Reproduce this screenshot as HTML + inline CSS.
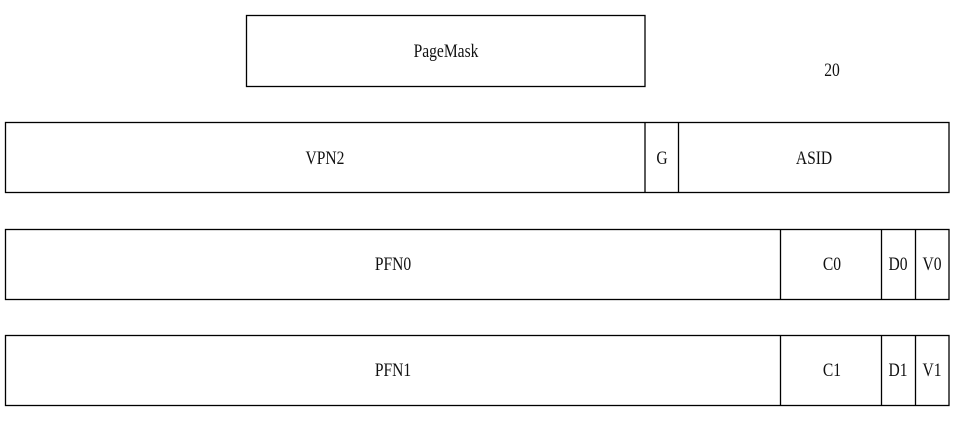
<!DOCTYPE html>
<html><head><meta charset="utf-8"><style>
body{margin:0;background:#fff;width:957px;height:423px;overflow:hidden}
svg text{font-family:"Liberation Serif",serif;font-size:19px;fill:#111}
</style></head><body>
<svg width="957" height="423" xmlns="http://www.w3.org/2000/svg">
<g fill="none" stroke="#000" stroke-width="1.3">
<rect x="246.5" y="15.5" width="398.5" height="71"/>
<rect x="5.5" y="122.5" width="943.5" height="70"/>
<line x1="645" y1="122" x2="645" y2="193"/><line x1="678.5" y1="122" x2="678.5" y2="193"/>
<rect x="5.5" y="229.5" width="943.5" height="70"/>
<line x1="780.5" y1="229" x2="780.5" y2="300"/><line x1="881.5" y1="229" x2="881.5" y2="300"/><line x1="915.5" y1="229" x2="915.5" y2="300"/>
<rect x="5.5" y="335.5" width="943.5" height="70"/>
<line x1="780.5" y1="335" x2="780.5" y2="406"/><line x1="881.5" y1="335" x2="881.5" y2="406"/><line x1="915.5" y1="335" x2="915.5" y2="406"/>
</g>
<g text-anchor="middle">
<text x="446" y="57" transform="translate(446,0) scale(0.82,1) translate(-446,0)">PageMask</text>
<text x="832" y="76" transform="translate(832,0) scale(0.82,1) translate(-832,0)">20</text>
<text x="325" y="164" transform="translate(325,0) scale(0.82,1) translate(-325,0)">VPN2</text>
<text x="662" y="164" transform="translate(662,0) scale(0.82,1) translate(-662,0)">G</text>
<text x="814" y="164" transform="translate(814,0) scale(0.82,1) translate(-814,0)">ASID</text>
<text x="393" y="270" transform="translate(393,0) scale(0.82,1) translate(-393,0)">PFN0</text>
<text x="832" y="270" transform="translate(832,0) scale(0.82,1) translate(-832,0)">C0</text>
<text x="898" y="270" transform="translate(898,0) scale(0.82,1) translate(-898,0)">D0</text>
<text x="932" y="270" transform="translate(932,0) scale(0.82,1) translate(-932,0)">V0</text>
<text x="393" y="376" transform="translate(393,0) scale(0.82,1) translate(-393,0)">PFN1</text>
<text x="832" y="376" transform="translate(832,0) scale(0.82,1) translate(-832,0)">C1</text>
<text x="898" y="376" transform="translate(898,0) scale(0.82,1) translate(-898,0)">D1</text>
<text x="932" y="376" transform="translate(932,0) scale(0.82,1) translate(-932,0)">V1</text>
</g>
</svg>
</body></html>
